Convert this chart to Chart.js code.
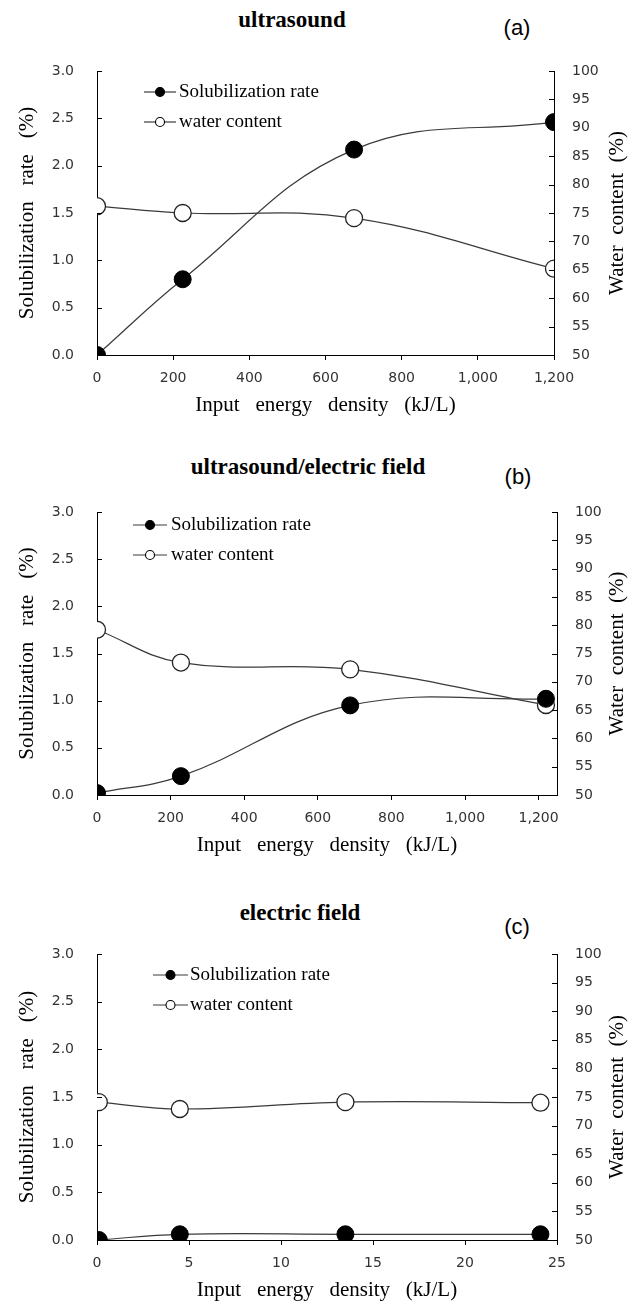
<!DOCTYPE html>
<html>
<head>
<meta charset="utf-8">
<script src="https://cdn.jsdelivr.net/npm/chart.js@4.4.1/dist/chart.umd.min.js"></script>
<style>
  html, body { margin: 0; padding: 0; background: #fff; }
  body { width: 636px; height: 1302px; position: relative; overflow: hidden; }
  .panel { position: absolute; left: 0; width: 636px; }
  canvas { display: block; }
  .ttl { position: absolute; font-family: 'Liberation Serif', serif; font-weight: bold; font-size: 23px; color: #000; transform: translate(-50%, -50%); white-space: nowrap; }
  .tag { position: absolute; font-family: 'Liberation Sans', sans-serif; font-size: 22px; color: #000; transform: translate(-50%, -50%); white-space: nowrap; }
</style>
</head>
<body>
<div class="ttl" style="left:292px; top:20px">ultrasound</div>
<div class="tag" style="left:517px; top:28px">(a)</div>
<div class="ttl" style="left:308px; top:467px">ultrasound/electric field</div>
<div class="tag" style="left:518px; top:477px">(b)</div>
<div class="ttl" style="left:300px; top:913px">electric field</div>
<div class="tag" style="left:517px; top:927px">(c)</div>

<div class="panel" style="top:0; height:430px"><canvas id="chartA" width="636" height="430"></canvas></div>
<div class="panel" style="top:430px; height:435px"><canvas id="chartB" width="636" height="435"></canvas></div>
<div class="panel" style="top:865px; height:437px"><canvas id="chartC" width="636" height="437"></canvas></div>

<script>
// ---- measurements ----
const seriesNames = ['Solubilization rate', 'water content'];

// (a) ultrasound
const energyUS = [0, 225, 675, 1200];
const solubUS  = [0.00, 0.80, 2.17, 2.46];
const waterUS  = [76.2, 75.0, 74.1, 65.2];

// (b) ultrasound + electric field
const energyUSEF = [0, 228, 688, 1220];
const solubUSEF  = [0.02, 0.20, 0.95, 1.02];
const waterUSEF  = [79.2, 73.4, 72.2, 65.9];

// (c) electric field
const energyEF = [0.1, 4.5, 13.5, 24.1];
const solubEF  = [0.00, 0.06, 0.06, 0.06];
const waterEF  = [74.1, 72.9, 74.1, 74.0];

// axis ranges / tick steps
const solubRange = [0, 3];
const solubStep = 0.5;
const waterRange = [50, 100];
const waterStep = 5;

// ---- shared drawing helpers ----
const tickFont = { family: 'DejaVu Sans', size: 14 };
const serifFont = 'Liberation Serif';
const lineColor = '#3a3a3a';

const panelDecor = {
  id: 'panelDecor',
  afterDraw(chart, args, opts) {
    const ctx = chart.ctx;
    const area = chart.chartArea;
    ctx.save();

    // inward tick marks on both value axes
    ctx.strokeStyle = '#000';
    ctx.lineWidth = 1;
    [['y', 1], ['y1', -1]].forEach(([id, dir]) => {
      const s = chart.scales[id];
      const x0 = id === 'y' ? area.left : area.right;
      s.ticks.forEach(t => {
        const py = Math.round(s.getPixelForValue(t.value)) + 0.5;
        ctx.beginPath();
        ctx.moveTo(x0, py);
        ctx.lineTo(x0 + dir * opts.tickLen, py);
        ctx.stroke();
      });
    });

    // key inside the plot
    const k = opts.key;
    chart.data.datasets.forEach((ds, i) => {
      const y = k.rows[i];
      ctx.strokeStyle = lineColor;
      ctx.lineWidth = 1.2;
      ctx.beginPath();
      ctx.moveTo(k.x0, y);
      ctx.lineTo(k.x1, y);
      ctx.stroke();
      ctx.beginPath();
      ctx.arc((k.x0 + k.x1) / 2, y, k.r, 0, Math.PI * 2);
      ctx.fillStyle = ds.pointBackgroundColor;
      ctx.fill();
      ctx.strokeStyle = '#000';
      ctx.lineWidth = 1.1;
      ctx.stroke();
      ctx.fillStyle = '#000';
      ctx.font = k.fontSize + 'px "' + serifFont + '"';
      ctx.textAlign = 'left';
      ctx.textBaseline = 'middle';
      ctx.fillText(ds.label, k.textX, y);
    });

    // right axis title, reading bottom to top like the left one
    const rt = opts.rightTitle;
    ctx.translate(rt.x, (area.top + area.bottom) / 2);
    ctx.rotate(-Math.PI / 2);
    ctx.fillStyle = '#000';
    ctx.font = rt.size + 'px "' + serifFont + '"';
    ctx.textAlign = 'center';
    ctx.textBaseline = 'middle';
    ctx.fillText(rt.text, 0, 0);

    ctx.restore();
  }
};

function makePanel(canvasId, xs, solub, water, p) {
  const ctx = document.getElementById(canvasId);
  return new Chart(ctx, {
    type: 'line',
    data: {
      datasets: [
        {
          label: seriesNames[0],
          data: xs.map((x, i) => ({ x, y: solub[i] })),
          yAxisID: 'y',
          borderColor: lineColor,
          borderWidth: 1.2,
          pointRadius: 8.5,
          pointBackgroundColor: '#000',
          pointBorderColor: '#000',
          pointBorderWidth: 1,
          tension: 0.4
        },
        {
          label: seriesNames[1],
          data: xs.map((x, i) => ({ x, y: water[i] })),
          yAxisID: 'y1',
          borderColor: lineColor,
          borderWidth: 1.2,
          pointRadius: 8.5,
          pointBackgroundColor: '#fff',
          pointBorderColor: '#222',
          pointBorderWidth: 1.3,
          tension: 0.4
        }
      ]
    },
    options: {
      responsive: false,
      animation: false,
      layout: { padding: { top: p.padTop, bottom: p.padBottom, left: 0, right: 0 } },
      plugins: {
        legend: { display: false },
        tooltip: { enabled: false },
        panelDecor: {
          tickLen: 5,
          key: p.key,
          rightTitle: { text: 'Water  content  (%)', x: 617, size: 21 }
        }
      },
      scales: {
        x: {
          type: 'linear',
          min: 0,
          max: p.xMax,
          afterFit(s) { s.height = 61; },
          border: { display: true, color: '#000', width: 1 },
          grid: { display: true, drawOnChartArea: false, drawTicks: true, tickLength: 5, color: '#000', lineWidth: 1 },
          ticks: {
            stepSize: p.xStep,
            includeBounds: false,
            autoSkip: false,
            maxRotation: 0,
            padding: 10,
            color: '#333',
            font: tickFont,
            callback: v => v.toLocaleString('en-US')
          },
          title: {
            display: true,
            text: 'Input   energy   density   (kJ/L)',
            color: '#000',
            font: { family: serifFont, size: 21, lineHeight: 1 },
            padding: 0
          }
        },
        y: {
          position: 'left',
          min: solubRange[0],
          max: solubRange[1],
          afterFit(s) { s.width = 97; },
          border: { display: true, color: '#000', width: 1 },
          grid: { display: false, drawTicks: false },
          ticks: {
            stepSize: solubStep,
            padding: 23,
            color: '#333',
            font: tickFont,
            callback: v => v.toFixed(1)
          },
          title: {
            display: true,
            text: 'Solubilization   rate   (%)',
            color: '#000',
            font: { family: serifFont, size: 21, lineHeight: 1 },
            padding: { top: 17, bottom: 0 }
          }
        },
        y1: {
          position: 'right',
          min: waterRange[0],
          max: waterRange[1],
          afterFit(s) { s.width = p.rightW; },
          border: { display: true, color: '#000', width: 1 },
          grid: { display: false, drawTicks: false },
          ticks: {
            stepSize: waterStep,
            padding: 18,
            color: '#333',
            font: tickFont,
            callback: v => String(v)
          }
        }
      }
    },
    plugins: [panelDecor]
  });
}

makePanel('chartA', energyUS, solubUS, waterUS, {
  padTop: 71, padBottom: 14, rightW: 82, xMax: 1200, xStep: 200,
  key: { x0: 144, x1: 176, textX: 179, rows: [92, 122], r: 4.5, fontSize: 19 }
});
makePanel('chartB', energyUSEF, solubUSEF, waterUSEF, {
  padTop: 82, padBottom: 9, rightW: 79, xMax: 1250, xStep: 200,
  key: { x0: 133, x1: 167, textX: 171, rows: [95, 125], r: 4.5, fontSize: 19 }
});
makePanel('chartC', energyEF, solubEF, waterEF, {
  padTop: 89, padBottom: 1, rightW: 79, xMax: 25, xStep: 5,
  key: { x0: 153, x1: 188, textX: 190, rows: [110, 140], r: 4.5, fontSize: 19 }
});
</script>
</body>
</html>
